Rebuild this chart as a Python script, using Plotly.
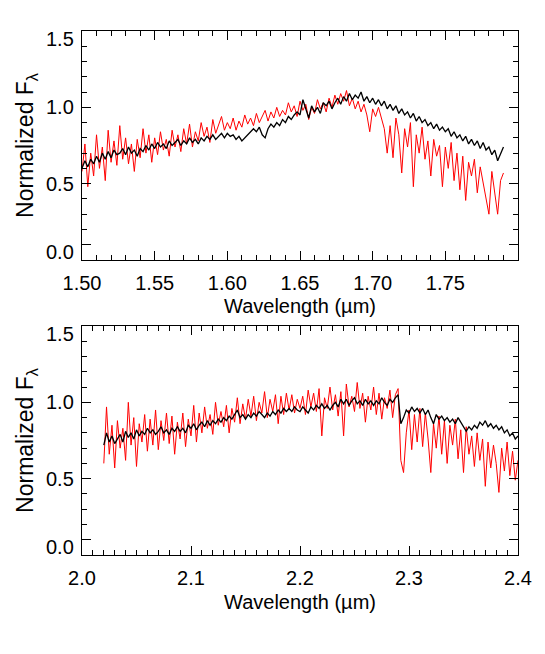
import numpy as np
import plotly.graph_objects as go

# H band (top panel): wavelength grid in micron
H_START, H_STEP, H_COUNT = 1.500, 0.002, 146
h_black = [
    0.60, 0.65, 0.61, 0.66, 0.63, 0.68, 0.64, 0.70, 0.66, 0.71,
    0.67, 0.72, 0.69, 0.70, 0.73, 0.69, 0.74, 0.70, 0.72, 0.68,
    0.73, 0.71, 0.75, 0.72, 0.76, 0.73, 0.77, 0.74, 0.76, 0.73,
    0.78, 0.75, 0.77, 0.79, 0.75, 0.78, 0.76, 0.80, 0.77, 0.79,
    0.76, 0.80, 0.78, 0.81, 0.79, 0.82, 0.79, 0.81, 0.83, 0.80,
    0.83, 0.81, 0.82, 0.79, 0.81, 0.78, 0.80, 0.82, 0.84, 0.86,
    0.84, 0.87, 0.82, 0.80, 0.86, 0.89, 0.87, 0.90, 0.88, 0.92,
    0.90, 0.94, 0.92, 0.95, 0.97, 0.95, 1.05, 0.99, 0.93, 1.01,
    0.97, 1.00, 0.96, 1.03, 1.01, 1.04, 0.99, 1.03, 1.06, 1.02,
    1.07, 1.04, 1.09, 1.05, 1.08, 1.06, 1.10, 1.04, 1.07, 1.03,
    1.06, 1.02, 1.05, 1.01, 1.04, 0.99, 1.02, 0.98, 1.01, 0.96,
    0.99, 0.95, 0.97, 0.93, 0.96, 0.91, 0.94, 0.90, 0.92, 0.88,
    0.90, 0.86, 0.89, 0.85, 0.87, 0.84, 0.86, 0.81, 0.84, 0.80,
    0.82, 0.78, 0.81, 0.76, 0.79, 0.75, 0.78, 0.73, 0.77, 0.72,
    0.74, 0.69, 0.72, 0.65, 0.70, 0.74,
]
h_red = [
    0.58, 0.76, 0.48, 0.70, 0.55, 0.82, 0.60, 0.74, 0.52, 0.85,
    0.64, 0.78, 0.62, 0.88, 0.66, 0.80, 0.63, 0.76, 0.58, 0.79,
    0.67, 0.86, 0.70, 0.82, 0.64, 0.80, 0.69, 0.84, 0.72, 0.79,
    0.68, 0.85, 0.74, 0.82, 0.71, 0.86, 0.76, 0.89, 0.74, 0.84,
    0.78, 0.90, 0.81, 0.87, 0.77, 0.92, 0.83, 0.88, 0.94, 0.85,
    0.90, 0.86, 0.93, 0.85, 0.91, 0.87, 0.95, 0.89, 0.93, 0.88,
    0.96, 0.90, 0.94, 0.98, 0.91, 0.97, 0.93, 1.00, 0.94, 0.98,
    0.95, 1.03, 0.97, 1.01, 0.94, 1.04, 0.98, 1.02, 0.92, 1.00,
    0.96, 1.05, 0.99, 1.03, 0.97, 1.06, 1.00, 1.08, 1.02, 1.09,
    1.04, 1.11, 1.01, 1.06, 0.99, 1.04, 0.97, 1.02, 0.95, 0.84,
    0.99, 0.94, 1.00, 0.92, 0.86, 0.70, 0.88, 0.67, 0.93, 0.82,
    0.57, 0.86, 0.74, 0.90, 0.48, 0.82, 0.70, 0.87, 0.66, 0.78,
    0.55, 0.79, 0.68, 0.75, 0.48, 0.74, 0.60, 0.77, 0.52, 0.70,
    0.46, 0.68, 0.39, 0.64, 0.55, 0.66, 0.44, 0.61, 0.50, 0.40,
    0.30, 0.58, 0.45, 0.30, 0.52, 0.57,
]

# K band (bottom panel)
K_START, K_STEP, K_COUNT = 2.020, 0.0025, 153
k_black = [
    0.72, 0.80, 0.74, 0.78, 0.73, 0.76, 0.79, 0.74, 0.81, 0.77,
    0.80, 0.76, 0.82, 0.78, 0.81, 0.79, 0.83, 0.80, 0.82, 0.79,
    0.81, 0.84, 0.80, 0.82, 0.79, 0.83, 0.81, 0.84, 0.81, 0.83,
    0.80, 0.85, 0.83, 0.86, 0.82, 0.85, 0.87, 0.84, 0.88, 0.85,
    0.88, 0.86, 0.89, 0.87, 0.90, 0.88, 0.91, 0.89, 0.92, 0.95,
    0.90, 0.92, 0.89, 0.92, 0.90, 0.93, 0.91, 0.94, 0.92, 0.90,
    0.93, 0.91, 0.94, 0.92, 0.95, 0.93, 0.96, 0.94, 0.96, 0.94,
    0.97, 0.95, 0.94, 0.97, 0.95, 0.93, 0.97, 0.95, 0.98, 0.96,
    0.99, 0.96, 0.98, 0.95, 0.98, 1.00, 0.97, 1.02, 0.99, 1.02,
    0.98, 1.01, 1.03, 0.99, 1.01, 0.98, 1.02, 0.99, 1.01, 0.98,
    1.01, 0.99, 1.03, 1.00, 0.98, 1.02, 1.00, 1.03, 1.05, 0.86,
    0.90, 0.95, 0.93, 0.97, 0.94, 0.96, 0.93, 0.96, 0.92, 0.95,
    0.90, 0.86, 0.92, 0.89, 0.91, 0.88, 0.90, 0.87, 0.89, 0.86,
    0.90, 0.87, 0.84, 0.81, 0.84, 0.82, 0.85, 0.83, 0.87, 0.85,
    0.88, 0.84, 0.86, 0.83, 0.85, 0.82, 0.84, 0.80, 0.82, 0.78,
    0.80, 0.76, 0.78,
]
k_red = [
    0.60, 0.97, 0.66, 0.85, 0.57, 0.88, 0.70, 0.83, 0.62, 1.00,
    0.72, 0.90, 0.58, 0.86, 0.74, 0.92, 0.68, 0.89, 0.72, 0.95,
    0.69, 0.88, 0.75, 0.93, 0.73, 0.91, 0.66, 0.87, 0.76, 0.93,
    0.71, 0.89, 0.78, 0.98, 0.74, 0.93, 0.80, 0.97, 0.83, 0.92,
    0.79, 1.00, 0.85, 0.94, 0.84, 0.98, 0.80, 0.96, 0.87, 1.03,
    0.86, 0.99, 0.89, 1.02, 0.91, 1.04, 0.88, 1.00, 0.93, 1.07,
    0.90, 1.02, 0.94, 1.05, 0.86, 1.04, 0.92, 1.06, 0.95, 1.05,
    0.93, 1.02, 0.96, 1.04, 0.92, 1.08, 0.97, 1.06, 0.94, 1.09,
    0.78, 1.03, 0.96, 1.10, 0.95, 1.05, 0.91, 1.07, 0.78, 1.12,
    0.97, 1.04, 0.94, 1.13, 0.96, 1.06, 0.87, 1.04, 0.95, 1.10,
    0.92, 1.06, 0.89, 1.03, 0.96, 1.08, 0.90, 1.05, 1.09, 0.62,
    0.54, 0.80, 0.95, 0.69, 0.92, 0.74, 0.96, 0.71, 0.93, 0.76,
    0.54, 0.86, 0.70, 0.91, 0.66, 0.88, 0.60, 0.85, 0.72, 0.89,
    0.63, 0.82, 0.54, 0.84, 0.66, 0.78, 0.58, 0.80, 0.62, 0.76,
    0.45, 0.74, 0.57, 0.72, 0.60, 0.41, 0.70, 0.55, 0.74, 0.52,
    0.68, 0.49, 0.62,
]

h_wave = np.round(H_START + H_STEP * np.arange(H_COUNT), 4)
k_wave = np.round(K_START + K_STEP * np.arange(K_COUNT), 4)

h_ticks = [1.50, 1.55, 1.60, 1.65, 1.70, 1.75]
h_tick_text = ["1.50", "1.55", "1.60", "1.65", "1.70", "1.75"]
k_ticks = [2.0, 2.1, 2.2, 2.3, 2.4]
k_tick_text = ["2.0", "2.1", "2.2", "2.3", "2.4"]
y_major = [0.1, 0.5, 1.0, 1.5]
y_label_pos = [0.05, 0.5, 1.0, 1.45]
y_label_text = ["0.0", "0.5", "1.0", "1.5"]

FONT = "Liberation Sans, Arial, sans-serif"
BLACK = "#000000"
RED = "#ff0000"

fig = go.Figure()
fig.add_trace(go.Scatter(x=h_wave, y=h_red, mode="lines", line={"color": RED, "width": 1}, xaxis="x", yaxis="y"))
fig.add_trace(go.Scatter(x=h_wave, y=h_black, mode="lines", line={"color": BLACK, "width": 1.3}, xaxis="x", yaxis="y"))
fig.add_trace(go.Scatter(x=k_wave, y=k_red, mode="lines", line={"color": RED, "width": 1}, xaxis="x2", yaxis="y2"))
fig.add_trace(go.Scatter(x=k_wave, y=k_black, mode="lines", line={"color": BLACK, "width": 1.3}, xaxis="x2", yaxis="y2"))


def x_axis(rng, ticks, text, minor_step, anchor):
    return dict(
        range=rng, anchor=anchor, automargin=False, tickmode="array", tickvals=ticks, ticktext=text,
        ticks="inside", ticklen=9, tickwidth=1, tickcolor=BLACK,
        minor=dict(tickmode="linear", tick0=rng[0], dtick=minor_step, ticks="inside", ticklen=5, tickcolor=BLACK, tickwidth=1),
        showline=True, linecolor=BLACK, linewidth=1, mirror="allticks", showgrid=False, zeroline=False,
        tickfont=dict(size=20, color=BLACK), ticklabelstandoff=5,
        title=dict(text="Wavelength (µm)", font=dict(size=20, color=BLACK), standoff=6),
    )


def y_axis(domain, anchor):
    return dict(
        range=[0, 1.5], domain=domain, anchor=anchor, automargin=False, tickmode="array", tickvals=y_major,
        showticklabels=False, ticks="inside", ticklen=9, tickwidth=1, tickcolor=BLACK,
        minor=dict(tickmode="linear", tick0=0, dtick=0.1, ticks="inside", ticklen=5, tickcolor=BLACK, tickwidth=1),
        showline=True, linecolor=BLACK, linewidth=1, mirror="allticks", showgrid=False, zeroline=False,
        title=dict(text="Normalized F<sub>λ</sub>", font=dict(size=23, color=BLACK), standoff=40),
    )


# the page body keeps its default 8 px margin, so the figure is 16 px smaller
fig.update_layout(
    width=537, height=646,
    margin=dict(l=74, r=27, t=23, b=99, autoexpand=False),
    paper_bgcolor="white", plot_bgcolor="white",
    showlegend=False,
    font=dict(family=FONT, color=BLACK),
    xaxis=x_axis([1.5, 1.8], h_ticks, h_tick_text, 0.01, "y"),
    yaxis=y_axis([0.563, 1.0], "x"),
    xaxis2=x_axis([2.0, 2.4], k_ticks, k_tick_text, 0.01, "y2"),
    yaxis2=y_axis([0.0, 0.437], "x2"),
)

for xref, yref in (("x domain", "y"), ("x2 domain", "y2")):
    for pos, label in zip(y_label_pos, y_label_text):
        fig.add_annotation(
            x=0, y=pos, xref=xref, yref=yref, xanchor="right", yanchor="middle", xshift=-6,
            text=label, showarrow=False, font=dict(size=20, color=BLACK),
        )

fig.write_html("out.html")
